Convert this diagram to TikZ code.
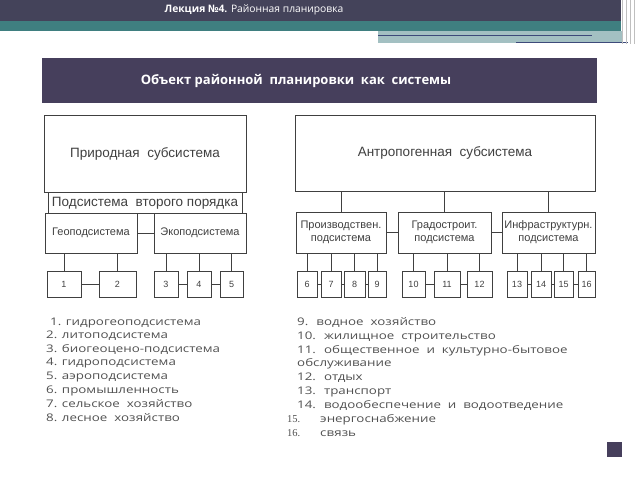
\documentclass[tikz,border=0pt]{standalone}
\usepackage{fontspec}
\setmainfont{Liberation Sans}
\newfontfamily\gothic[FakeStretch=1.27]{Open Sans}
\newfontfamily\headfont{Open Sans}
\newfontfamily\timesf{Liberation Serif}
\usetikzlibrary{positioning}
\definecolor{headdark}{HTML}{44435A}
\definecolor{headteal}{HTML}{3F7F80}
\definecolor{headlight}{HTML}{A3C0C2}
\definecolor{headline}{HTML}{3D4A7A}
\definecolor{titlebar}{HTML}{463F5C}
\definecolor{listgray}{HTML}{505050}
\tikzset{
  sysbox/.style={
    draw=black!75,
    line width=0.7pt,
    fill=white,
    inner sep=0pt,
    align=center,
    font=\fontsize{13.5}{15}\selectfont,
    text=black!75
    },
  subbox/.style={
    sysbox,
    font=\fontsize{11}{13}\selectfont
    },
  numbox/.style={
    sysbox,
    font=\fontsize{9}{10}\selectfont,
    minimum height=26pt
    },
  listline/.style={
    anchor=base west,
    inner sep=0pt,
    text=listgray,
    font=\gothic\fontsize{10.5}{12}\selectfont
    },
  wire/.style={draw=black!75, line width=0.7pt}
}
\begin{document}
\begin{tikzpicture}[x=1pt,y=-1pt]
    \useasboundingbox (0,0) rectangle (640,480);
    % header
    \fill[headdark] (0,0) rectangle (621,21);
    \fill[headteal] (0,21) rectangle (621,31);
    \fill[headlight] (378,31) rectangle (623,43);
    \draw[headline, line width=1pt] (378,35) -- (592,35);
    \draw[headline, line width=1pt] (516,42) -- (628,42);
    \foreach \vx in {622,626,630,634}
        \draw[gray!50, line width=0.6pt] (\vx,0) -- (\vx,44);
    \node[text=white, font=\headfont\fontsize{10.3}{12}\selectfont] (lecture) at (254,10)
        {\textbf{Лекция №4.} Районная планировка};
    % title bar
    \node[fill=titlebar, minimum width=555pt, minimum height=45pt, inner sep=0pt] (titlebox) at (319.5,80.5) {};
    \node[text=white, font=\headfont\bfseries\fontsize{13}{15}\selectfont] (title) at (296,81)
        {Объект районной~ планировки~ как~ системы};

    % natural subsystem
    \node[sysbox, minimum width=202pt, minimum height=77pt] (nature) at (145,153.5) {Природная~ субсистема};
    \node[sysbox, minimum width=194pt, minimum height=21pt, anchor=north] (second) at (nature.south) {Подсистема~ второго порядка};
    \node[subbox, minimum width=92pt, minimum height=40pt] (geo) at (91,233) {Геоподсистема};
    \node[subbox, minimum width=92pt, minimum height=40pt] (eco) at (200,233) {Экоподсистема};
    \foreach \n/\a/\b in {1/47/81, 2/99/136, 3/154/178, 4/187/211, 5/220/243}
        \node[numbox, minimum width={(\b-\a)*1pt}] (n\n) at ({(\a+\b)/2},284.5) {\n};
    \draw[wire] (geo) -- (eco);
    \foreach \s/\n in {geo/1, geo/2, eco/3, eco/4, eco/5}
        \draw[wire] (n\n.north) -- (n\n.north |- \s.south);
    \draw[wire] (n1) -- (n2);
    \draw[wire] (n3) -- (n4);
    \draw[wire] (n4) -- (n5);

    % anthropogenic subsystem
    \node[sysbox, minimum width=300pt, minimum height=76pt] (anthro) at (445,153) {Антропогенная~ субсистема};
    \node[subbox, minimum width=90pt, minimum height=41pt] (prod) at (341,232.5) {Производствен.\\подсистема};
    \node[subbox, minimum width=93pt, minimum height=41pt] (grad) at (444.5,232.5) {Градостроит.\\подсистема};
    \node[subbox, minimum width=93pt, minimum height=41pt] (infra) at (548.5,232.5) {Инфраструктурн.\\подсистема};
    \foreach \s in {prod, grad, infra}
        \draw[wire] (\s.north) -- (\s.north |- anthro.south);
    \draw[wire] (prod) -- (grad);
    \draw[wire] (grad) -- (infra);
    \foreach \n/\a/\b in {6/297/317, 7/321/341, 8/344/365, 9/368/386, 10/402/425, 11/434/460,
                          12/467/492, 13/507/527, 14/531/551, 15/554/573, 16/578/595}
        \node[numbox, minimum width={(\b-\a)*1pt}] (n\n) at ({(\a+\b)/2},284.5) {\n};
    \foreach \s/\n in {prod/6, prod/7, prod/8, prod/9, grad/10, grad/11, grad/12,
                       infra/13, infra/14, infra/15, infra/16}
        \draw[wire] (n\n.north) -- (n\n.north |- \s.south);
    \foreach \p/\q in {6/7, 7/8, 8/9, 10/11, 11/12, 13/14, 14/15, 15/16}
        \draw[wire] (n\p) -- (n\q);

    % legend, left column
    \node[listline] (l1) at (50,325) {1. гидрогеоподсистема};
    \node[listline] (l2) at (46,338.5) {2. литоподсистема};
    \node[listline] (l3) at (46,352) {3. биогеоцено-подсистема};
    \node[listline] (l4) at (46,365.5) {4. гидроподсистема};
    \node[listline] (l5) at (46,379.5) {5. аэроподсистема};
    \node[listline] (l6) at (46,393.5) {6. промышленность};
    \node[listline] (l7) at (46,407) {7. сельское~ хозяйство};
    \node[listline] (l8) at (46,421) {8. лесное~ хозяйство};
    % legend, right column
    \node[listline] (l9) at (297,325) {9.~ водное~ хозяйство};
    \node[listline] (l10) at (297,339) {10.~ жилищное~ строительство};
    \node[listline] (l11) at (297,353) {11.~ общественное~ и~ культурно-бытовое};
    \node[listline] (l11b) at (297,366) {обслуживание};
    \node[listline] (l12) at (297,380.5) {12.~ отдых};
    \node[listline] (l13) at (297,394.5) {13.~ транспорт};
    \node[listline] (l14) at (297,408) {14.~ водообеспечение~ и~ водоотведение};
    \node[listline, font=\timesf\fontsize{10.5}{12}\selectfont] (l15num) at (287,422) {15.};
    \node[listline] (l15) at (320,422) {энергоснабжение};
    \node[listline, font=\timesf\fontsize{10.5}{12}\selectfont] (l16num) at (287,436) {16.};
    \node[listline] (l16) at (320,436) {связь};
    % corner mark
    \fill[titlebar] (607,442) rectangle (622,457);
\end{tikzpicture}
\end{document}
